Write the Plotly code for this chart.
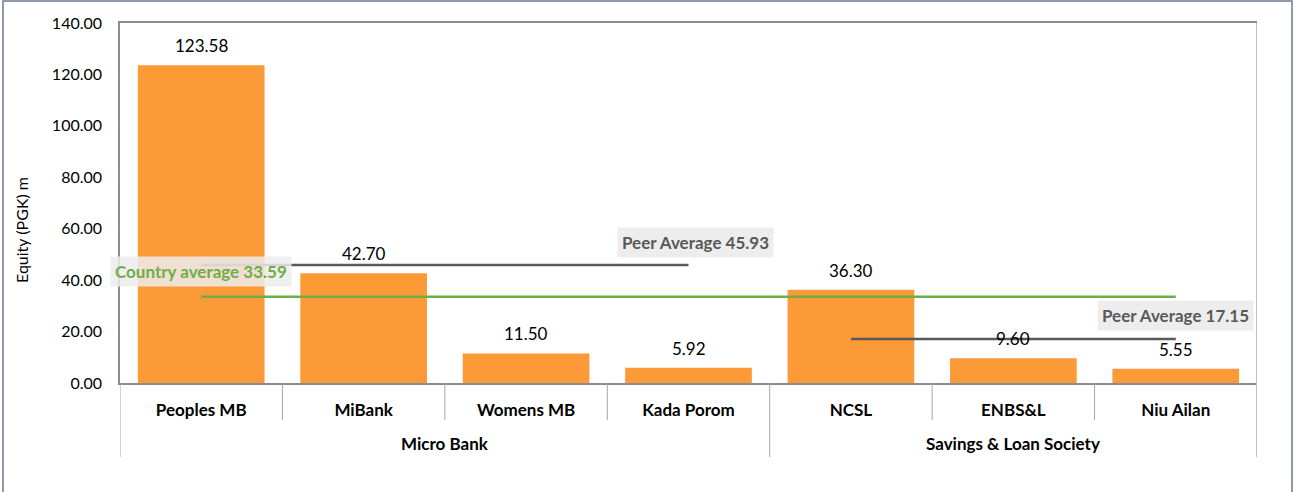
import plotly.graph_objects as go

categories = ["Peoples MB", "MiBank", "Womens MB", "Kada Porom", "NCSL", "ENBS&L", "Niu Ailan"]
groups = ["Micro Bank", "Savings & Loan Society"]
group_members = [["Peoples MB", "MiBank", "Womens MB", "Kada Porom"], ["NCSL", "ENBS&L", "Niu Ailan"]]
equity = [123.58, 42.70, 11.50, 5.92, 36.30, 9.60, 5.55]
peer_avg_micro = 45.93
peer_avg_sls = 17.15
country_avg = 33.59
y_ticks = [0, 20, 40, 60, 80, 100, 120, 140]

FONT = "Lato"
fig = go.Figure()

fig.add_trace(go.Bar(
    x=categories, y=equity,
    marker=dict(color="#FB9A37", line=dict(width=0)),
    width=0.78, showlegend=False, hoverinfo="x+y",
))

# data labels
for c, v in zip(categories, equity):
    fig.add_annotation(x=c, y=v, text=f"{v:.2f}", showarrow=False, yanchor="bottom", yshift=7,
                       font=dict(family=FONT, size=17, color="#000000"))

# average lines
fig.add_trace(go.Scatter(x=[group_members[0][0], group_members[0][-1]], y=[peer_avg_micro] * 2,
                         mode="lines", line=dict(color="#595959", width=2.5), showlegend=False))
fig.add_trace(go.Scatter(x=[categories[0], categories[-1]], y=[country_avg] * 2,
                         mode="lines", line=dict(color="#70AD47", width=2.5), showlegend=False))
fig.add_trace(go.Scatter(x=[group_members[1][0], group_members[1][-1]], y=[peer_avg_sls] * 2,
                         mode="lines", line=dict(color="#595959", width=2.5), showlegend=False))

# average labels
fig.add_annotation(x="Kada Porom", y=54.8, text=f"<b>Peer Average {peer_avg_micro:.2f}</b>", showarrow=False,
                   font=dict(family=FONT, size=17, color="#595959"), bgcolor="#EDEDED",
                   borderpad=4, xshift=7)
fig.add_annotation(x="Peoples MB", y=43.2, text=f"<b>Country average {country_avg:.2f}</b>", showarrow=False,
                   font=dict(family=FONT, size=17, color="#70AD47"), bgcolor="rgba(236,236,236,0.85)",
                   borderpad=4)
fig.add_annotation(x="Niu Ailan", y=26.1, text=f"<b>Peer Average {peer_avg_sls:.2f}</b>", showarrow=False,
                   font=dict(family=FONT, size=17, color="#595959"), bgcolor="#EDEDED",
                   borderpad=4)

# y-axis title
fig.add_annotation(x=(22 - 120) / 1137, xref="paper", y=(383 - 230) / 360, yref="paper",
                   text="Equity (PGK) m", textangle=-90, showarrow=False,
                   xanchor="center", yanchor="middle",
                   font=dict(family=FONT, size=16, color="#000000"))

# group labels
start = 0
for g, members in zip(groups, group_members):
    center = start + (len(members) - 1) / 2
    fig.add_annotation(x=center, xref="x", y=-0.167, yref="paper", yanchor="middle",
                       text=f"<b>{g}</b>", showarrow=False,
                       font=dict(family=FONT, size=17, color="#000000"))
    start += len(members)

# dividers
n = len(categories)
group_edges = [-0.5]
acc = -0.5
for members in group_members:
    acc += len(members)
    group_edges.append(acc)
for i in range(n + 1):
    xpos = i - 0.5
    long = any(abs(xpos - e) < 1e-9 for e in group_edges)
    y0 = -0.2056 if long else -0.103
    fig.add_shape(type="line", xref="x", yref="paper", x0=xpos, x1=xpos, y0=0, y1=y0,
                  line=dict(color="#A6A6A6", width=1))
# right frame line
fig.add_shape(type="line", xref="x", yref="paper", x0=n - 0.5, x1=n - 0.5, y0=1, y1=-0.2056,
              line=dict(color="#BFBFBF", width=2))
# outer chart border
fig.add_shape(type="rect", xref="paper", yref="paper",
              x0=-117 / 1137, x1=(1292 - 120) / 1137, y0=-1, y1=(23 - 1) / 360 + 1,
              line=dict(color="#6B7A8F", width=1.5), layer="below")

fig.update_layout(
    width=1296, height=492,
    margin=dict(l=120, r=39, t=23, b=109),
    paper_bgcolor="white", plot_bgcolor="white",
    font=dict(family=FONT, color="#000000"),
    bargap=0.22,
    xaxis=dict(type="category", showline=True, linecolor="#8C8C8C", linewidth=1.5, mirror=True,
               ticks="outside", ticklen=11, tickcolor="rgba(0,0,0,0)",
               tickfont=dict(family=FONT, size=17, color="#000000"),
               range=[-0.5, n - 0.5], showgrid=False, automargin=False,
               tickvals=categories, ticktext=[f"<b>{c}</b>" for c in categories]),
    yaxis=dict(range=[0, 140], tickvals=y_ticks, tickformat=".2f", showgrid=False, zeroline=False,
               showline=True, linecolor="#8C8C8C", linewidth=1.5, automargin=False,
               ticks="outside", ticklen=13, tickcolor="rgba(0,0,0,0)",
               tickfont=dict(family=FONT, size=16, color="#000000")),
)

fig.write_html("out.html", config={"displayModeBar": False},
               post_script="document.body.style.margin='0px';document.body.style.overflow='hidden';")
